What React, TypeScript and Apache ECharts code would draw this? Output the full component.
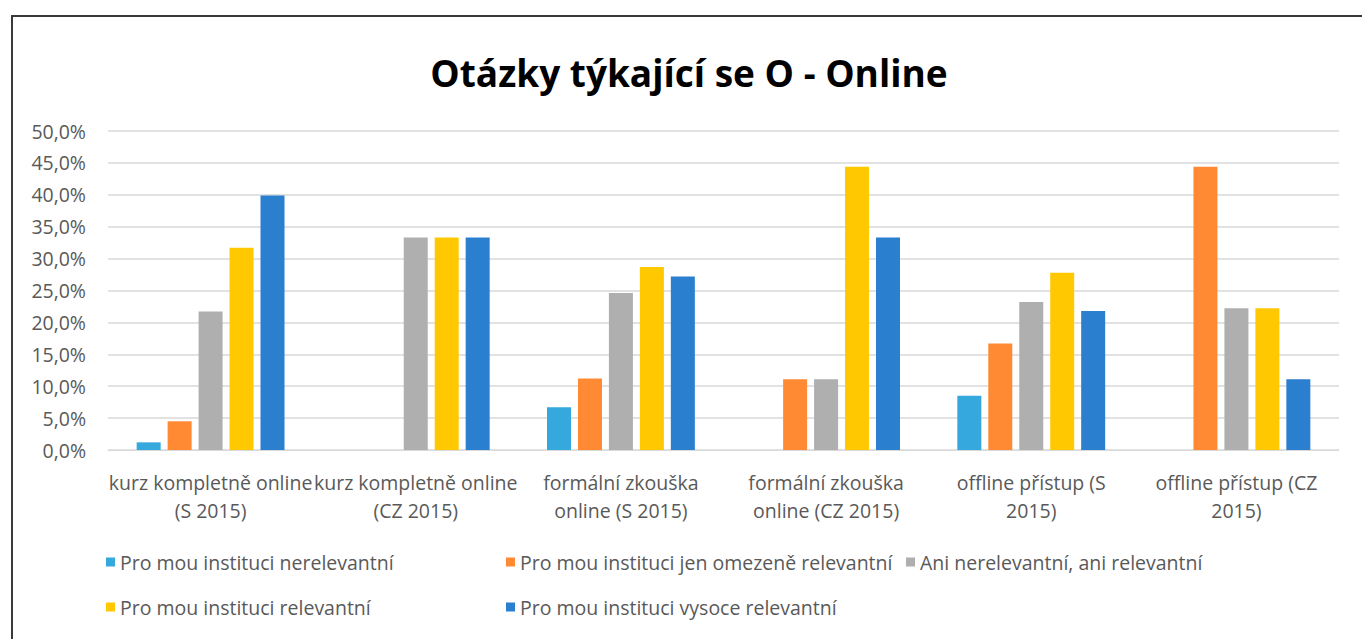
import React, { useEffect, useRef } from "react";
import * as echarts from "echarts";

const TITLE = "Otázky týkající se O - Online";
const categories = [
  "kurz kompletně online\n(S 2015)",
  "kurz kompletně online\n(CZ 2015)",
  "formální zkouška\nonline (S 2015)",
  "formální zkouška\nonline (CZ 2015)",
  "offline přístup (S\n2015)",
  "offline přístup (CZ\n2015)",
];
const seriesNames = [
  "Pro mou instituci nerelevantní",
  "Pro mou instituci jen omezeně relevantní",
  "Ani nerelevantní, ani relevantní",
  "Pro mou instituci relevantní",
  "Pro mou instituci vysoce relevantní",
];
const nerelevantni = [1.2, 0, 6.7, 0, 8.5, 0];
const omezene = [4.5, 0, 11.2, 11.1, 16.7, 44.4];
const ani = [21.7, 33.3, 24.6, 11.1, 23.2, 22.2];
const relevantni = [31.7, 33.3, 28.7, 44.4, 27.8, 22.2];
const vysoce = [39.9, 33.3, 27.2, 33.3, 21.8, 11.1];
const colors = ["#35A8DE", "#FF8A33", "#AFAFAF", "#FFC800", "#2B7FCF"];

const FONT = "'Open Sans', sans-serif";
const TEXT = "#595959";

export default function App() {
  const ref = useRef<HTMLDivElement>(null);
  useEffect(() => {
    document.body.style.margin = "0";
    const chart = echarts.init(ref.current!, null, { renderer: "svg" });
    const values = [nerelevantni, omezene, ani, relevantni, vysoce];
    const legendCommon = {
      orient: "vertical" as const,
      top: 551,
      padding: 0,
      itemWidth: 9,
      itemHeight: 9,
      itemGap: 23,
      icon: "rect",
      textStyle: { color: TEXT, fontSize: 19.5, fontFamily: FONT, lineHeight: 22 },
    };
    chart.setOption({
      animation: false,
      backgroundColor: "#fff",
      textStyle: { fontFamily: FONT },
      graphic: [
        {
          type: "rect",
          z: -1,
          shape: { x: 12, y: 16, width: 1400, height: 700 },
          style: { fill: "#fff", stroke: "#3a3a3a", lineWidth: 2 },
        },
        {
          type: "text",
          x: 689,
          y: 72,
          style: {
            text: TITLE,
            fontSize: 37,
            fontWeight: "bold",
            fontFamily: FONT,
            fill: "#000",
            align: "center",
            verticalAlign: "middle",
          },
        },
      ],
      legend: [
        { ...legendCommon, left: 106, data: [seriesNames[0], seriesNames[3]] },
        { ...legendCommon, left: 506, data: [seriesNames[1], seriesNames[4]] },
        { ...legendCommon, left: 906, data: [seriesNames[2]] },
      ],
      grid: { left: 108, right: 23, top: 131, bottom: 189, containLabel: false },
      xAxis: {
        type: "category",
        data: categories,
        axisLine: { lineStyle: { color: "#D9D9D9", width: 1 } },
        axisTick: { show: false },
        axisLabel: {
          interval: 0,
          color: TEXT,
          fontSize: 19.5,
          fontFamily: FONT,
          lineHeight: 28,
          margin: 18,
        },
      },
      yAxis: {
        type: "value",
        min: 0,
        max: 50,
        interval: 5,
        axisLine: { show: false },
        axisTick: { show: false },
        splitLine: { lineStyle: { color: "#D9D9D9", width: 1.5 } },
        axisLabel: {
          color: TEXT,
          fontSize: 19.5,
          fontFamily: FONT,
          margin: 22,
          formatter: (v: number) => v.toFixed(1).replace(".", ",") + "%",
        },
      },
      series: seriesNames.map((name, i) => ({
        name,
        type: "bar",
        data: values[i],
        barWidth: 24,
        barGap: "29%",
        itemStyle: { color: colors[i] },
      })),
    });
    return () => chart.dispose();
  }, []);
  return <div ref={ref} style={{ width: 1362, height: 639 }} />;
}
